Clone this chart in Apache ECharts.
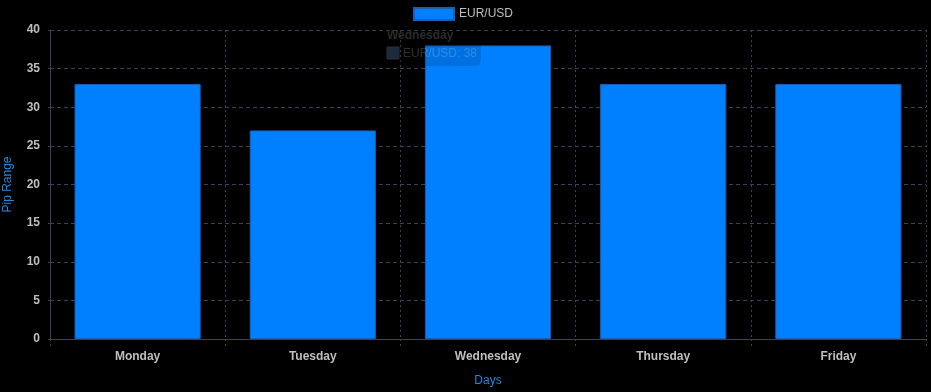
<!DOCTYPE html>
<html>
<head>
<meta charset="utf-8">
<style>
html,body{margin:0;padding:0;background:#000;}
#chart{width:931px;height:392px;}
</style>
<script src="https://cdn.jsdelivr.net/npm/echarts@6/dist/echarts.min.js"></script>
</head>
<body>
<div id="chart"></div>
<script>
const categories = ['Monday', 'Tuesday', 'Wednesday', 'Thursday', 'Friday'];
const seriesName = 'EUR/USD';
const pipRange = [33, 27, 38, 33, 33];
const tooltipTitle = 'Wednesday';
const tooltipBody = 'EUR/USD: 38';

const gridColor = '#3b405f';
const font = '"Liberation Sans", Arial, Helvetica, sans-serif';

const chart = echarts.init(document.getElementById('chart'), null, {renderer: 'canvas'});
chart.setOption({
  backgroundColor: '#000000',
  animation: false,
  textStyle: {fontFamily: font},
  legend: {
    top: 7,
    padding: 0,
    left: 413,
    itemWidth: 40,
    itemHeight: 12,
    itemGap: 10,
    textStyle: {color: '#bfbfbf', fontSize: 12, fontFamily: font},
    data: [{name: seriesName, icon: 'rect'}]
  },
  grid: {left: 50, right: 5, top: 30, bottom: 53, containLabel: false, outerBoundsMode: 'none'},
  xAxis: {
    type: 'category',
    data: categories,
    boundaryGap: true,
    name: 'Days',
    nameLocation: 'middle',
    nameGap: 36,
    nameTextStyle: {color: '#1e88e5', fontSize: 12, fontFamily: font},
    axisLine: {show: true, lineStyle: {color: gridColor, width: 1}},
    axisTick: {show: true, length: 10, lineStyle: {color: gridColor, type: [2, 3]}},
    axisLabel: {color: '#bfbfbf', fontSize: 12, fontWeight: 'bold', margin: 12, fontFamily: font},
    splitLine: {show: true, lineStyle: {color: gridColor, type: [2, 3]}}
  },
  yAxis: {
    type: 'value',
    min: 0,
    max: 40,
    interval: 5,
    name: 'Pip Range',
    nameLocation: 'middle',
    nameGap: 36,
    nameTextStyle: {color: '#1e88e5', fontSize: 12, fontFamily: font},
    axisLine: {show: true, lineStyle: {color: gridColor, width: 1}},
    axisTick: {show: true, length: 5, lineStyle: {color: gridColor, type: [2, 3]}},
    axisLabel: {color: '#bfbfbf', fontSize: 12, fontWeight: 'bold', margin: 10, fontFamily: font},
    splitLine: {show: true, lineStyle: {color: gridColor, type: [4, 3]}}
  },
  series: [{
    name: seriesName,
    type: 'bar',
    data: pipRange,
    barCategoryGap: '28%',
    itemStyle: {color: '#0080ff', borderColor: '#1a5fb4', borderWidth: 1}
  }],
  graphic: [{
    type: 'group',
    left: 381,
    top: 24,
    z: 100,
    children: [
      {type: 'rect', shape: {x: 0, y: 0, width: 100, height: 42, r: 6}, style: {fill: 'rgba(0,0,0,0.12)'}, z: 100},
      {type: 'text', x: 6, y: 6, style: {text: tooltipTitle, fill: '#2b2b2b', font: 'bold 12px ' + font}, z: 101},
      {type: 'rect', shape: {x: 6, y: 23, width: 12, height: 12}, style: {fill: '#1c2b3a', stroke: '#25313d', lineWidth: 1}, z: 101},
      {type: 'text', x: 22, y: 24, style: {text: tooltipBody, fill: 'rgba(255,255,255,0.18)', font: '12px ' + font}, z: 101}
    ]
  }]
});
</script>
</body>
</html>
